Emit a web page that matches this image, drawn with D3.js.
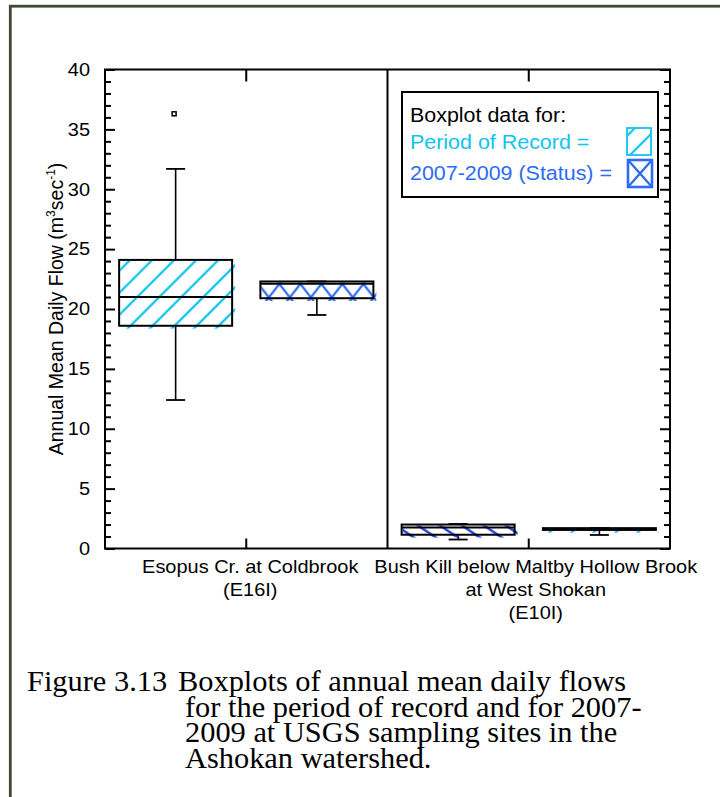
<!DOCTYPE html>
<html>
<head>
<meta charset="utf-8">
<script src="https://cdn.jsdelivr.net/npm/d3@7"></script>
<style>
  body { margin: 0; background: #fff; }
  svg { display: block; }
</style>
</head>
<body>
<svg id="chart" width="720" height="797"></svg>
<script>
// ---- data -------------------------------------------------------------
const siteLabels = [
  ["Esopus Cr. at Coldbrook", "(E16I)"],
  ["Bush Kill below Maltby Hollow Brook", "at West Shokan", "(E10I)"]
];
const slotNames = ["Period of Record", "2007-2009 (Status)"];

// box statistics per site, per slot (m^3 sec^-1)
const lowWhisker    = [[12.4, 19.5], [0.75, 1.13]];
const lowerQuartile = [[18.6, 20.9], [1.15, 1.55]];
const medians       = [[21.0, 22.1], [1.75, 1.62]];
const upperQuartile = [[24.1, 22.3], [2.0, 1.70]];
const highWhisker   = [[31.7, 22.3], [2.05, 1.70]];
const outlierVals   = [[[36.3], []], [[], []]];

const yMajorTicks = [0, 5, 10, 15, 20, 25, 30, 35, 40];
const yMinorTicks = d3.range(0, 41).filter(v => v % 5 !== 0);

const yTitle = ["Annual Mean Daily Flow (m", "3", "sec", "-1", ")"];
const legendTitle = "Boxplot data for:";
const legendLabels = ["Period of Record =", "2007-2009 (Status) ="];
const captionHead = "Figure 3.13";
const captionLines = [
  "Boxplots of annual mean daily flows",
  "for the period of record and for 2007-",
  "2009 at USGS sampling sites in the",
  "Ashokan watershed."
];

// ---- setup ------------------------------------------------------------
const CYAN = "#10c4ef";
const BLUE = "#2b6cf6";
const DARKBLUE = "#1434d6";
const SANS = "'Liberation Sans', Arial, sans-serif";
const SERIF = "'Liberation Serif', 'Times New Roman', serif";

const plot = { left: 105, right: 670, top: 69.5, bottom: 548.5 };

const svg = d3.select("#chart");
const defs = svg.append("defs");

const x = d3.scaleBand()
  .domain(d3.range(siteLabels.length))
  .range([plot.left, plot.right])
  .padding(0);
const xSlot = d3.scaleBand()
  .domain(d3.range(slotNames.length))
  .range([0, x.bandwidth()])
  .paddingInner(0.2)
  .paddingOuter(0.1);
const y = d3.scaleLinear().domain([0, 40]).range([plot.bottom, plot.top]);

// text with a slight horizontal stretch
function label(parent, px, py, str, size, anchor, sx, fill, family) {
  return parent.append("text")
    .attr("transform", `translate(${px},${py}) scale(${sx},1)`)
    .attr("text-anchor", anchor)
    .style("font-family", family || SANS)
    .style("font-size", size + "px")
    .attr("fill", fill || "#000")
    .text(str);
}

// parallel-line hatch
function lineHatch(id, color, gap, angle, sw, tx, ty) {
  const p = defs.append("pattern")
    .attr("id", id)
    .attr("patternUnits", "userSpaceOnUse")
    .attr("width", gap).attr("height", 20)
    .attr("patternTransform", `translate(${tx},${ty}) rotate(${angle})`);
  p.append("line")
    .attr("x1", gap / 2).attr("y1", -2)
    .attr("x2", gap / 2).attr("y2", 22)
    .attr("stroke", color).attr("stroke-width", sw);
  return `url(#${id})`;
}

// crossed hatch
function crossHatch(id, color, w, h, sw, tx, ty) {
  const p = defs.append("pattern")
    .attr("id", id)
    .attr("patternUnits", "userSpaceOnUse")
    .attr("width", w).attr("height", h)
    .attr("patternTransform", `translate(${tx},${ty})`);
  [[0, 0, w, h], [w, 0, 0, h]].forEach(([a, b, c, d]) => {
    p.append("line")
      .attr("x1", a).attr("y1", b).attr("x2", c).attr("y2", d)
      .attr("stroke", color).attr("stroke-width", sw)
      .attr("stroke-linecap", "square");
  });
  return `url(#${id})`;
}

// outer figure border
svg.append("rect")
  .attr("x", 10.3).attr("y", 6.2)
  .attr("width", 800).attr("height", 900)
  .attr("fill", "none")
  .attr("stroke", "#3e4a30")
  .attr("stroke-width", 2.8);

// ---- boxes ------------------------------------------------------------
const boxes = siteLabels.flatMap((s, i) => slotNames.map((n, j) => ({
  site: i, slot: j,
  lo: lowWhisker[i][j], q1: lowerQuartile[i][j], med: medians[i][j],
  q3: upperQuartile[i][j], hi: highWhisker[i][j], out: outlierVals[i][j]
})));

const hatchKind = [["diag", "cross"], ["back", "diag"]];

const gBoxes = svg.append("g");
boxes.forEach((b, k) => {
  const x0 = x(b.site) + xSlot(b.slot);
  const w = xSlot.bandwidth();
  const cx = x0 + w / 2;
  const top = y(b.q3), bot = y(b.q1);
  const kind = hatchKind[b.site][b.slot];
  let fill;
  if (kind === "diag") fill = lineHatch("h" + k, CYAN, 15.6, 45, 2.3, x0, top);
  else if (kind === "cross") fill = crossHatch("h" + k, BLUE, 21, 27, 2.3, x0 + 19, top + 2.5);
  else fill = lineHatch("h" + k, DARKBLUE, 12.3, -56, 2.3, x0 + 4, top);

  const g = gBoxes.append("g");
  // whiskers
  g.append("line").attr("x1", cx).attr("x2", cx).attr("y1", y(b.hi)).attr("y2", top)
    .attr("stroke", "#000").attr("stroke-width", 1.6);
  g.append("line").attr("x1", cx).attr("x2", cx).attr("y1", bot).attr("y2", y(b.lo))
    .attr("stroke", "#000").attr("stroke-width", 1.6);
  [b.lo, b.hi].forEach(v => {
    g.append("line").attr("x1", cx - 9.5).attr("x2", cx + 9.5)
      .attr("y1", y(v)).attr("y2", y(v))
      .attr("stroke", "#000").attr("stroke-width", 1.8);
  });
  // hatched body
  g.append("rect")
    .attr("x", x0 + 1).attr("y", top + 1)
    .attr("width", w + 2).attr("height", bot - top + 1.8)
    .attr("fill", fill);
  // outline and median
  g.append("rect")
    .attr("x", x0).attr("y", top)
    .attr("width", w).attr("height", bot - top)
    .attr("fill", "none").attr("stroke", "#000").attr("stroke-width", 2);
  g.append("line").attr("x1", x0).attr("x2", x0 + w)
    .attr("y1", y(b.med)).attr("y2", y(b.med))
    .attr("stroke", "#000").attr("stroke-width", 2);
  // outliers
  b.out.forEach(v => {
    g.append("rect").attr("x", cx - 3.5).attr("y", y(v) - 2)
      .attr("width", 4).attr("height", 4)
      .attr("fill", "#fff").attr("stroke", "#000").attr("stroke-width", 1.5);
  });
});

// ---- axes & frame -----------------------------------------------------
const axL = svg.append("g").attr("transform", `translate(${plot.left},0)`)
  .call(d3.axisLeft(y).tickValues(yMajorTicks).tickSize(-10).tickPadding(13.5));
axL.select(".domain").remove();
axL.selectAll("line").attr("stroke", "#000").attr("stroke-width", 2);
axL.selectAll("text")
  .attr("transform", "scale(1.11,1)")
  .style("font-family", SANS).style("font-size", "18px").attr("fill", "#000");

const axLm = svg.append("g").attr("transform", `translate(${plot.left},0)`)
  .call(d3.axisLeft(y).tickValues(yMinorTicks).tickSize(-6).tickFormat(""));
axLm.select(".domain").remove();
axLm.selectAll("line").attr("stroke", "#000").attr("stroke-width", 2);

const axR = svg.append("g").attr("transform", `translate(${plot.right},0)`)
  .call(d3.axisRight(y).tickValues(yMajorTicks).tickSize(-10).tickFormat(""));
axR.select(".domain").remove();
axR.selectAll("line").attr("stroke", "#000").attr("stroke-width", 2);

const axRm = svg.append("g").attr("transform", `translate(${plot.right},0)`)
  .call(d3.axisRight(y).tickValues(yMinorTicks).tickSize(-6).tickFormat(""));
axRm.select(".domain").remove();
axRm.selectAll("line").attr("stroke", "#000").attr("stroke-width", 2);

// category ticks top and bottom, divider between sites
x.domain().forEach(i => {
  const cx = x(i) + x.bandwidth() / 2;
  svg.append("line").attr("x1", cx).attr("x2", cx)
    .attr("y1", plot.top).attr("y2", plot.top + 12)
    .attr("stroke", "#000").attr("stroke-width", 2);
  svg.append("line").attr("x1", cx).attr("x2", cx)
    .attr("y1", plot.bottom).attr("y2", plot.bottom - 10)
    .attr("stroke", "#000").attr("stroke-width", 2);
  if (i > 0) {
    svg.append("line").attr("x1", x(i)).attr("x2", x(i))
      .attr("y1", plot.top).attr("y2", plot.bottom)
      .attr("stroke", "#000").attr("stroke-width", 2);
  }
});

svg.append("rect")
  .attr("x", plot.left).attr("y", plot.top)
  .attr("width", plot.right - plot.left).attr("height", plot.bottom - plot.top)
  .attr("fill", "none").attr("stroke", "#000").attr("stroke-width", 2);

// category labels
siteLabels.forEach((lines, i) => {
  const cx = x(i) + x.bandwidth() / 2 + 4 + 3 * i;
  lines.forEach((t, r) => label(svg, cx, 573 + r * 23, t, 18, "middle", 1.11));
});

// y title
const yt = svg.append("text")
  .attr("transform", `translate(63,${(plot.top + plot.bottom) / 2}) rotate(-90)`)
  .attr("text-anchor", "middle")
  .style("font-family", SANS).style("font-size", "19.5px").attr("fill", "#000");
yt.append("tspan").text(yTitle[0]);
yt.append("tspan").attr("dy", -8).style("font-size", "12px").text(yTitle[1]);
yt.append("tspan").attr("dy", 8).text(yTitle[2]);
yt.append("tspan").attr("dy", -8).style("font-size", "12px").text(yTitle[3]);
yt.append("tspan").attr("dy", 8).text(yTitle[4]);

// ---- legend -----------------------------------------------------------
const lg = svg.append("g");
lg.append("rect").attr("x", 402).attr("y", 92).attr("width", 256).attr("height", 105)
  .attr("fill", "#fff").attr("stroke", "#000").attr("stroke-width", 2);
label(lg, 410, 122, legendTitle, 19.5, "start", 1.1, "#000");
label(lg, 410, 149, legendLabels[0], 19.5, "start", 1.1, CYAN);
label(lg, 410, 180, legendLabels[1], 19.5, "start", 1.1, BLUE);

const sw1 = { x: 627, y: 128, w: 24, h: 27 };
lg.append("rect").attr("x", sw1.x).attr("y", sw1.y).attr("width", sw1.w).attr("height", sw1.h)
  .attr("fill", lineHatch("legDiag", CYAN, 15.6, 45, 2.3, sw1.x - 6, sw1.y + 25))
  .attr("stroke", CYAN).attr("stroke-width", 1.8);

const sw2 = { x: 628, y: 160, w: 24, h: 27 };
lg.append("rect").attr("x", sw2.x).attr("y", sw2.y).attr("width", sw2.w).attr("height", sw2.h)
  .attr("fill", "#fff").attr("stroke", BLUE).attr("stroke-width", 2.6);
[[sw2.x, sw2.y, sw2.x + sw2.w, sw2.y + sw2.h], [sw2.x + sw2.w, sw2.y, sw2.x, sw2.y + sw2.h]]
  .forEach(([a, b, c, d]) => lg.append("line")
    .attr("x1", a).attr("y1", b).attr("x2", c).attr("y2", d)
    .attr("stroke", BLUE).attr("stroke-width", 2.3));

// ---- caption (one text block, hanging indent, tight leading) ----------
const cap = svg.append("text")
  .style("font-family", SERIF).style("font-size", "30.4px").attr("fill", "#000");
cap.append("tspan").attr("x", 27).attr("y", 691).text(captionHead);
captionLines.forEach((t, r) =>
  cap.append("tspan")
    .attr("x", r === 0 ? 178 : 185)
    .attr("y", 691 + r * 25.5)
    .text(t));
</script>
</body>
</html>
